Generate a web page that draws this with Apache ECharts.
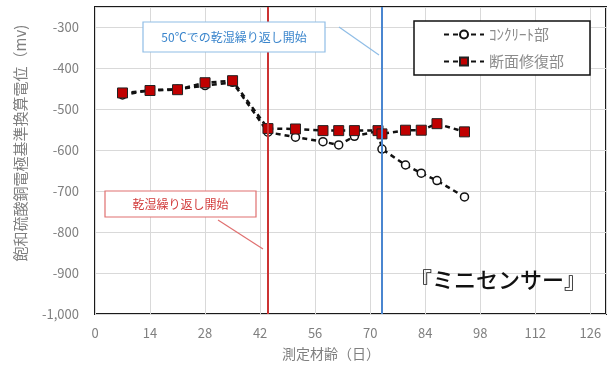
<!DOCTYPE html>
<html>
<head>
<meta charset="utf-8">
<script src="https://cdn.jsdelivr.net/npm/echarts@6/dist/echarts.min.js"></script>
<style>
html,body{margin:0;padding:0;background:#fff;}
#c{width:613px;height:369px;}
</style>
</head>
<body>
<div id="c"></div>
<script>
// ---- data ----
const days = [7, 14, 21, 28, 35, 44, 51, 58, 62, 66, 72, 73, 79, 83, 87, 94];
const concrete = [-465, -453, -451, -442, -434, -556, -568, -579, -587, -566, -553, -597, -636, -656, -674, -714];
const repair = [-460, -454, -452, -435, -430, -547, -548, -552, -552, -552, -552, -560, -551, -551, -535, -555];
const seriesNames = ['ｺﾝｸﾘｰﾄ部', '断面修復部'];
const eventDays = [44, 73];
const eventLabels = ['乾湿繰り返し開始', '50℃での乾湿繰り返し開始'];
const xTitle = '測定材齢（日）';
const yTitle = '飽和硫酸銅電極基準換算電位（mv)';
const sensorLabel = '『ミニセンサー』';

const font = '"Noto Sans CJK JP", "Noto Sans", sans-serif';
const chart = echarts.init(document.getElementById('c'), null, {renderer: 'canvas'});

const pairs = (xs, ys) => xs.map((x, i) => [x, ys[i]]);
const dashed = {color: '#111', width: 2.5, type: [5, 4]};

chart.setOption({
  animation: false,
  backgroundColor: '#fff',
  grid: {left: 95, right: 7, top: 7, bottom: 55, show: true, borderColor: '#1a1a1a', borderWidth: 2, containLabel: false},
  xAxis: {
    type: 'value', min: 0, max: 130, interval: 14,
    axisLine: {show: false}, axisTick: {show: false},
    splitLine: {show: true, lineStyle: {color: '#d9d9d9', width: 1}},
    axisLabel: {color: '#7f7f7f', fontSize: 13, fontFamily: font, margin: 13, showMaxLabel: false}
  },
  yAxis: {
    type: 'value', min: -1000, max: -250, interval: 100,
    axisLine: {show: false}, axisTick: {show: false},
    splitLine: {show: true, lineStyle: {color: '#d9d9d9', width: 1}},
    axisLabel: {color: '#7f7f7f', fontSize: 13, fontFamily: font, margin: 16, showMaxLabel: false,
      formatter: v => v.toLocaleString('en-US')}
  },
  legend: {
    orient: 'vertical', left: 414, top: 21,
    padding: [6, 26, 6, 29],
    itemWidth: 40, itemHeight: 10, itemGap: 12,
    borderColor: '#111', borderWidth: 1.5, backgroundColor: '#fff',
    textStyle: {color: '#8c8c8c', fontSize: 15, fontFamily: font, padding: [0, 0, 0, 0]},
    data: seriesNames
  },
  series: [
    {
      name: seriesNames[0], type: 'line', data: pairs(days, concrete), z: 3,
      symbol: 'circle', symbolSize: 8,
      itemStyle: {color: '#fff', borderColor: '#111', borderWidth: 1.5},
      lineStyle: dashed,
      markLine: {
        silent: true, symbol: 'none', label: {show: false},
        data: [
          {xAxis: eventDays[0], lineStyle: {color: '#cc3333', width: 2, type: 'solid'}},
          {xAxis: eventDays[1], lineStyle: {color: '#4a86d0', width: 2, type: 'solid'}}
        ]
      }
    },
    {
      name: seriesNames[1], type: 'line', data: pairs(days, repair), z: 4,
      symbol: 'rect', symbolSize: 10,
      itemStyle: {color: '#c00000', borderColor: '#222', borderWidth: 1},
      lineStyle: dashed
    }
  ],
  graphic: [
    // red annotation box
    {type: 'rect', shape: {x: 105, y: 191, width: 151, height: 26},
      style: {fill: '#fff', stroke: '#e07070', lineWidth: 1.2}, z: 100},
    {type: 'text', x: 180.5, y: 204, z: 101,
      style: {text: eventLabels[0], fill: '#d23c3c', font: '12px ' + font, align: 'center', verticalAlign: 'middle'}},
    {type: 'line', shape: {x1: 218, y1: 220, x2: 263, y2: 249},
      style: {stroke: '#e07070', lineWidth: 1.2}, z: 100},
    // blue annotation box
    {type: 'rect', shape: {x: 143, y: 22, width: 182, height: 30},
      style: {fill: '#fff', stroke: '#8fbde6', lineWidth: 1.2}, z: 100},
    {type: 'text', x: 234, y: 37, z: 101,
      style: {text: eventLabels[1], fill: '#3a85cc', font: '12px ' + font, align: 'center', verticalAlign: 'middle'}},
    {type: 'line', shape: {x1: 339, y1: 27, x2: 379, y2: 55},
      style: {stroke: '#8fbde6', lineWidth: 1.2}, z: 100},
    // sensor label
    {type: 'text', x: 498, y: 280, z: 101,
      style: {text: sensorLabel, fill: '#111', font: '500 22px ' + font, align: 'center', verticalAlign: 'middle'}},
    // axis titles
    {type: 'text', x: 331, y: 354, z: 101,
      style: {text: xTitle, fill: '#7f7f7f', font: '14px ' + font, align: 'center', verticalAlign: 'middle'}},
    {type: 'text', x: 20, y: 143, rotation: Math.PI / 2, z: 101,
      style: {text: yTitle, fill: '#7f7f7f', font: '15px ' + font, align: 'center', verticalAlign: 'middle'}}
  ]
});
</script>
</body>
</html>
